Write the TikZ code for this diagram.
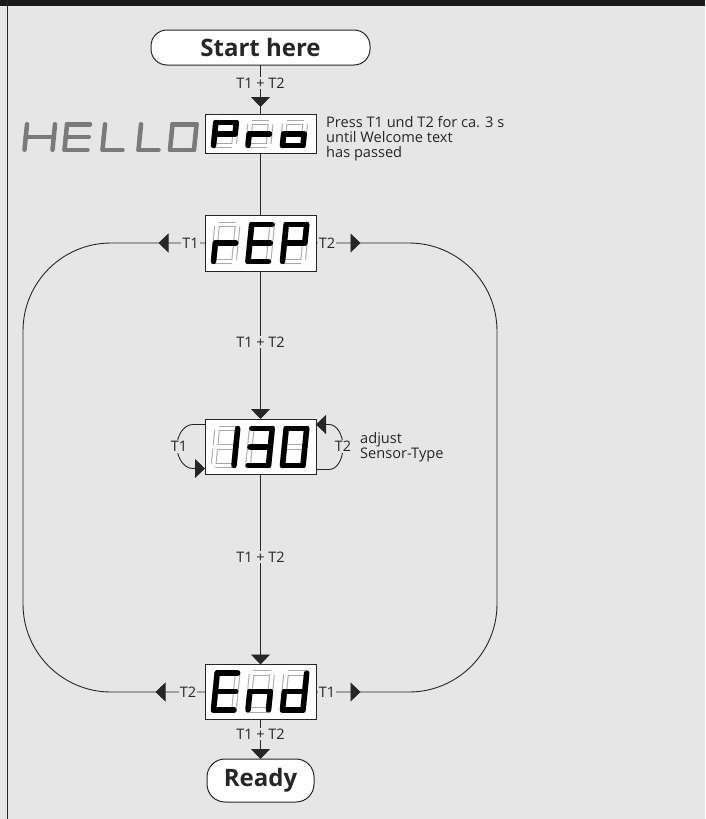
\documentclass[tikz,border=0pt]{standalone}
\usepackage{fontspec}
\setmainfont{Open Sans}
\usetikzlibrary{arrows.meta,decorations.markings,calc}
\definecolor{bg}{HTML}{E6E6E6}
\definecolor{ink}{HTML}{262626}
\definecolor{ghostc}{HTML}{A8A8A8}
\definecolor{hellogray}{HTML}{7A7A7A}
\definecolor{barc}{HTML}{1A1A1A}
\tikzset{
  tri/.tip={Triangle[length=10pt,width=19pt]},
  conn/.style={draw=ink,line width=0.9pt},
  lbl/.style={fill=bg,inner sep=1.2pt,text=ink,font=\fontsize{14.5}{16}\selectfont},
  note/.style={anchor=west,align=left,inner sep=0pt,text=ink,font=\fontsize{14.6}{15}\selectfont},
  disp/.style={draw=ink,line width=1pt,fill=white,minimum width=111pt,minimum height=56pt,inner sep=0pt,outer sep=0pt},
  term/.style={draw=ink,line width=1pt,fill=white,inner sep=0pt,outer sep=0pt,text=ink,font=\bfseries\fontsize{24}{28}\selectfont},
  ghost/.style={draw=ghostc,line width=1pt,double=white,double distance=3.6pt,shorten <=1.7pt,shorten >=1.7pt},
  litseg/.style={draw=black,line width=5.5pt,line cap=round,line join=round},
  hellseg/.style={draw=hellogray,line width=4.5pt,line cap=round,line join=round},
  midarrows/.style 2 args={postaction={decorate},decoration={markings,mark=at position #1 with {\arrow{tri}},mark=at position #2 with {\arrowreversed{tri}}}},
}
\newcommand\dispdigit[5]{%
 \begin{scope}[shift={(#1,#2)},xslant=0.1]
  \coordinate (BL) at (0,0); \coordinate (BR) at (#3,0);
  \coordinate (ML) at (0,-#4/2); \coordinate (MR) at (#3,-#4/2);
  \coordinate (TL) at (0,-#4); \coordinate (TR) at (#3,-#4);
  \foreach \p/\q in {TL/TR,TR/MR,MR/BR,BL/BR,BL/ML,ML/TL,ML/MR}{\draw[ghost] (\p) -- (\q);}
  \foreach \p/\q in {#5}{\draw[litseg] (\p) -- (\q);}
 \end{scope}}
\newcommand\plaindigit[5]{%
 \begin{scope}[shift={(#1,#2)},xslant=0.1]
  \coordinate (BL) at (0,0); \coordinate (BR) at (#3,0);
  \coordinate (ML) at (0,-#4/2); \coordinate (MR) at (#3,-#4/2);
  \coordinate (TL) at (0,-#4); \coordinate (TR) at (#3,-#4);
  \foreach \p/\q in {#5}{\draw[hellseg] (\p) -- (\q);}
 \end{scope}}
\begin{document}
\begin{tikzpicture}[x=1pt,y=-1pt]
\useasboundingbox (0,0) rectangle (705,819);
\fill[bg] (0,0) rectangle (705,819);
\fill[barc] (0,0) rectangle (705,6);
\draw[ink,line width=1.4pt] (7.5,0) -- (7.5,819);

% nodes
\node[term,minimum width=219pt,minimum height=35pt,rounded corners=16pt] (start) at (260.5,47.5) {Start here};
\node[disp,minimum height=39pt] (pro) at (260.5,133.5) {};
\node[disp] (rep) at (260.5,243) {};
\node[disp,minimum height=55pt] (b130) at (260.5,446.5) {};
\node[disp,minimum height=55pt] (endd) at (260.5,692) {};
\node[term,minimum width=107pt,minimum height=43pt,rounded corners=18pt] (ready) at (260.5,780.5) {Ready};

% connectors
\draw[conn,postaction={decorate},decoration={markings,mark=at position -7pt with {\arrow{tri}}}] (start) -- (pro);
\draw[conn] (pro) -- (rep);
\draw[conn,-{tri}] (rep) -- (b130);
\draw[conn,-{tri}] (b130) -- (endd);
\draw[conn,-{tri}] (endd) -- (ready);

\draw[conn,midarrows={46.5pt}{-49.5pt}] (rep.west) -- (111,243) .. controls (62.4,243) and (23,282.4) .. (23,331) -- (23,604) .. controls (23,652.6) and (62.4,692) .. (111,692) -- (endd.west);
\draw[conn,midarrows={44.5pt}{-44.5pt}] (rep.east) -- (409,243) .. controls (457.6,243) and (497,282.4) .. (497,331) -- (497,604) .. controls (497,652.6) and (457.6,692) .. (409,692) -- (endd.east);

\draw[conn,-{tri}] ($(b130.west)+(0,-22)$) -- (193,424.5) .. controls (184.2,424.5) and (177,434.5) .. (177,446.5) .. controls (177,458.5) and (184.2,468.5) .. (193,468.5) -- ($(b130.west)+(0,22)$);
\draw[conn,-{tri}] ($(b130.east)+(0,23)$) -- (329,469.5) .. controls (336.7,469.5) and (343,459.8) .. (343,447) .. controls (343,434.2) and (336.7,424.5) .. (329,424.5) -- ($(b130.east)+(0,-22)$);

% labels
\node[lbl] (k1) at (260.5,83) {T1 + T2};
\node[lbl] (k2) at (260.5,342) {T1 + T2};
\node[lbl] (k3) at (260.5,557) {T1 + T2};
\node[lbl] (k4) at (260.5,734) {T1 + T2};
\node[lbl] (k5) at (190.5,243) {T1};
\node[lbl] (k6) at (327,243) {T2};
\node[lbl] (k7) at (179,446.5) {T1};
\node[lbl] (k8) at (343,446.5) {T2};
\node[lbl] (k9) at (188,692) {T2};
\node[lbl] (k10) at (327,692) {T1};

\node[note] (press) at (326,139) {Press T1 und T2 for ca. 3 s\\until Welcome text\\has passed};
\node[note] (adj) at (360,447) {adjust\\Sensor-Type};

% HELLO
\plaindigit{24.5}{149.75}{28}{25.5}{TR/MR,MR/BR,BL/ML,ML/TL,ML/MR}
\plaindigit{64.5}{149.75}{23}{25.5}{TL/TR,BL/BR,BL/ML,ML/TL,ML/MR}
\plaindigit{102.5}{149.75}{20}{25.5}{BL/BR,BL/ML,ML/TL}
\plaindigit{138.5}{149.75}{20}{25.5}{BL/BR,BL/ML,ML/TL}
\plaindigit{170}{149.75}{24}{25.5}{TL/TR,TR/MR,MR/BR,BL/BR,BL/ML,ML/TL}

% Pro
\dispdigit{213.5}{145.5}{20.5}{23}{TL/TR,TR/MR,BL/ML,ML/TL,ML/MR}
\dispdigit{248}{145.5}{20.5}{23}{BL/ML,ML/MR}
\dispdigit{282.5}{145.5}{20.5}{23}{MR/BR,BL/BR,BL/ML,ML/MR}
% rEP
\dispdigit{213.5}{261.5}{20.5}{37}{BL/ML,ML/MR}
\dispdigit{248}{261.5}{20.5}{37}{TL/TR,BL/BR,BL/ML,ML/TL,ML/MR}
\dispdigit{282.5}{261.5}{20.5}{37}{TL/TR,TR/MR,BL/ML,ML/TL,ML/MR}
% 130
\dispdigit{213.5}{465.5}{20.5}{37}{TR/MR,MR/BR}
\dispdigit{248}{465.5}{20.5}{37}{TL/TR,TR/MR,MR/BR,BL/BR,ML/MR}
\dispdigit{282.5}{465.5}{20.5}{37}{TL/TR,TR/MR,MR/BR,BL/BR,BL/ML,ML/TL}
% End
\dispdigit{213.5}{710}{20.5}{37}{TL/TR,BL/BR,BL/ML,ML/TL,ML/MR}
\dispdigit{248}{710}{20.5}{37}{MR/BR,BL/ML,ML/MR}
\dispdigit{282.5}{710}{20.5}{37}{TR/MR,MR/BR,BL/BR,BL/ML,ML/MR}
\end{tikzpicture}
\end{document}
